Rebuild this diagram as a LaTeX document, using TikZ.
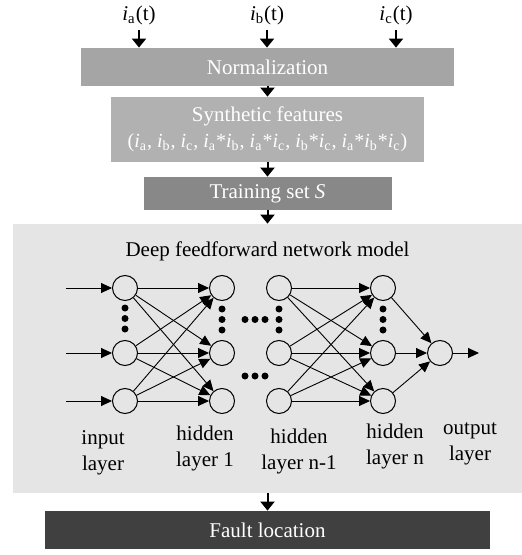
\documentclass[tikz,border=0pt]{standalone}
\usepackage{fontspec}
\setmainfont{Liberation Serif}
\usetikzlibrary{positioning,arrows.meta}
\definecolor{normgrey}{RGB}{165,165,165}
\definecolor{featgrey}{RGB}{177,177,177}
\definecolor{traingrey}{RGB}{136,136,136}
\definecolor{panelgrey}{RGB}{229,229,229}
\definecolor{faultgrey}{RGB}{64,64,64}
\newcommand{\curr}[1]{\textit{i}\textsubscript{#1}}

\begin{document}
\begin{tikzpicture}[
    x=0.5pt, y=-0.5pt,
    stage/.style={
        inner sep=0pt,
        text=white,
        align=center,
        font=\fontsize{10.5}{13}\selectfont
    },
    neuron/.style={
        draw,
        circle,
        line width=0.5pt,
        inner sep=0pt,
        minimum size=12.5pt
    },
    layerlabel/.style={
        align=center,
        inner sep=0pt,
        font=\fontsize{10.5}{13}\selectfont
    },
    flow/.style={-{Triangle[width=7pt,length=4.5pt]}, line width=1pt},
    link/.style={-{Triangle[width=5pt,length=5.5pt]}, line width=0.45pt}
]
\useasboundingbox (0,0) rectangle (522,555);

% PHASE CURRENTS
\node[layerlabel, inner sep=2.5pt] (ia) at (139,15) {\curr{a}(t)};
\node[layerlabel, inner sep=2.5pt] (ib) at (267,15) {\curr{b}(t)};
\node[layerlabel, inner sep=2.5pt] (ic) at (396,15) {\curr{c}(t)};

% PREPROCESSING
\node[stage, fill=normgrey, minimum width=186.5pt, minimum height=19pt] (norm) at (267.5,67)
{Normalization};

\node[stage, fill=featgrey, minimum width=156.5pt, minimum height=32.5pt] (feat) at (267.5,129.5)
{Synthetic features\\
{\fontsize{10}{13}\selectfont (\curr{a}, \curr{b}, \curr{c}, \curr{a}*\curr{b}, \curr{a}*\curr{c}, \curr{b}*\curr{c}, \curr{a}*\curr{b}*\curr{c})}};

\node[stage, fill=traingrey, minimum width=124pt, minimum height=16.5pt] (train) at (267.5,193.5)
{Training set \textit{S}};

\draw[flow] (ia) -- (ia |- norm.north);
\draw[flow] (ib) -- (ib |- norm.north);
\draw[flow] (ic) -- (ic |- norm.north);
\draw[flow] (norm) -- (feat);
\draw[flow] (feat) -- (train);

% NETWORK PANEL
\node[fill=panelgrey, inner sep=0pt, minimum width=254.5pt, minimum height=134.5pt] (panel) at (267.5,358.5) {};
\node[layerlabel] (title) at (267.5,251) {Deep feedforward network model};

\draw[flow] (train) -- (panel);

% neurons
\node[neuron] (in1) at (125,288) {};
\node[neuron] (in2) at (125,353) {};
\node[neuron] (in3) at (125,401) {};

\node[neuron] (ha1) at (222,288) {};
\node[neuron] (ha2) at (222,353) {};
\node[neuron] (ha3) at (222,401) {};

\node[neuron] (hm1) at (279,288) {};
\node[neuron] (hm2) at (279,353) {};
\node[neuron] (hm3) at (279,401) {};

\node[neuron] (hn1) at (383,288) {};
\node[neuron] (hn2) at (383,353) {};
\node[neuron] (hn3) at (383,401) {};

\node[neuron] (out) at (440,353) {};

% dots for the skipped neurons and layers
\fill (125,308) circle (1.75pt) (125,318.5) circle (1.75pt) (125,329) circle (1.75pt);
\fill (222,309) circle (1.75pt) (222,319.5) circle (1.75pt) (222,330) circle (1.75pt);
\fill (279,309) circle (1.75pt) (279,319.5) circle (1.75pt) (279,330) circle (1.75pt);
\fill (383,309) circle (1.75pt) (383,319.5) circle (1.75pt) (383,330) circle (1.75pt);
\fill (245,319.5) circle (1.75pt) (255,319.5) circle (1.75pt) (265,319.5) circle (1.75pt);
\fill (245,376) circle (1.75pt) (255,376) circle (1.75pt) (265,376) circle (1.75pt);

% inputs and output
\coordinate (x1) at (66,288);
\coordinate (x2) at (66,353);
\coordinate (x3) at (66,401);
\coordinate (y) at (479,353);

\draw[link] (x1) -- (in1);
\draw[link] (x2) -- (in2);
\draw[link] (x3) -- (in3);

% input layer to hidden layer 1
\draw[link] (in1) -- (ha1);
\draw[link] (in1) -- (ha2);
\draw[link] (in1) -- (ha3);
\draw[link] (in2) -- (ha1);
\draw[link] (in2) -- (ha2);
\draw[link] (in2) -- (ha3);
\draw[link] (in3) -- (ha1);
\draw[link] (in3) -- (ha2);
\draw[link] (in3) -- (ha3);

% hidden layer n-1 to hidden layer n
\draw[link] (hm1) -- (hn1);
\draw[link] (hm1) -- (hn2);
\draw[link] (hm1) -- (hn3);
\draw[link] (hm2) -- (hn1);
\draw[link] (hm2) -- (hn2);
\draw[link] (hm2) -- (hn3);
\draw[link] (hm3) -- (hn1);
\draw[link] (hm3) -- (hn2);
\draw[link] (hm3) -- (hn3);

% hidden layer n to output
\draw[link] (hn1) -- (out);
\draw[link] (hn2) -- (out);
\draw[link] (hn3) -- (out);
\draw[link] (out) -- (y);

% layer names
\node[layerlabel] (linput) at (103,453) {input\\layer};
\node[layerlabel] (lhid1) at (205,448.5) {hidden\\layer 1};
\node[layerlabel] (lhidm) at (299,451.5) {hidden\\layer n-1};
\node[layerlabel] (lhidn) at (395,446.5) {hidden\\layer n};
\node[layerlabel] (loutput) at (470,444) {output\\layer};

% RESULT
\node[stage, fill=faultgrey, minimum width=222.5pt, minimum height=19pt] (fault) at (267.5,530)
{Fault location};

\draw[flow] (panel) -- (fault);

\end{tikzpicture}
\end{document}
